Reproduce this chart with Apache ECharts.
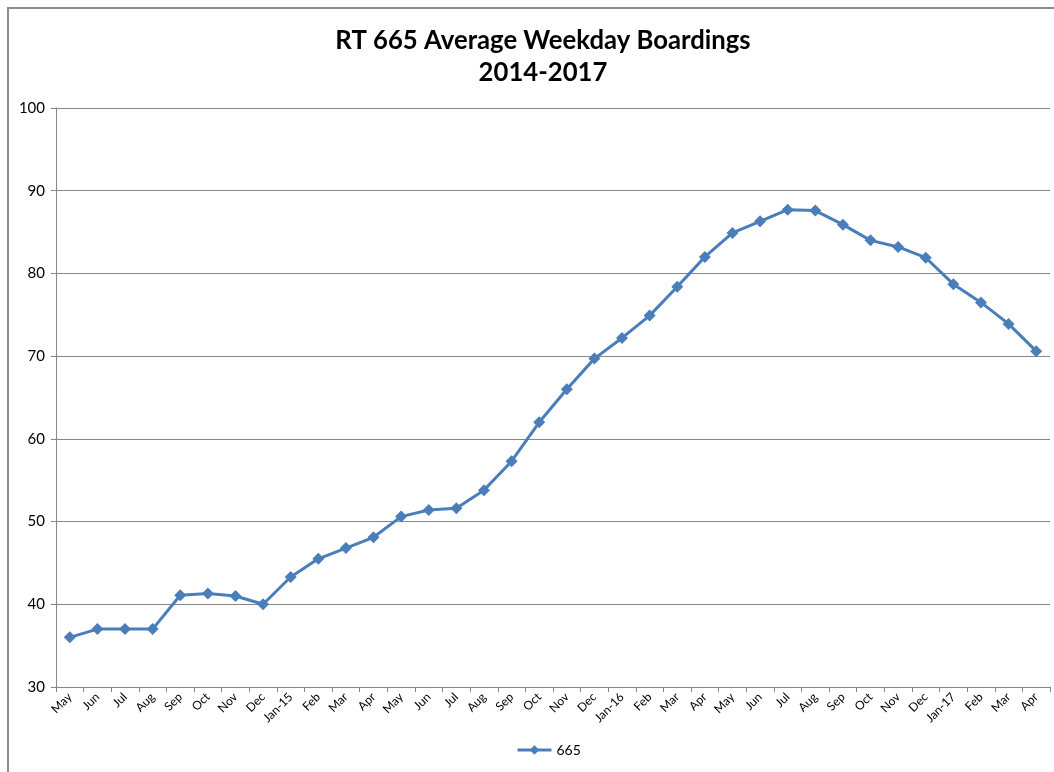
<!DOCTYPE html>
<html>
<head>
<meta charset="utf-8">
<title>RT 665 Average Weekday Boardings</title>
<script src="https://cdn.jsdelivr.net/npm/echarts@6/dist/echarts.min.js"></script>
<style>
  html, body { margin: 0; padding: 0; background: #ffffff; }
  #chart { width: 1054px; height: 772px; }
</style>
</head>
<body>
<div id="chart"></div>
<script>
// Months, May 2014 through Apr 2017
const months = [
  'May', 'Jun', 'Jul', 'Aug', 'Sep', 'Oct', 'Nov', 'Dec',
  'Jan-15', 'Feb', 'Mar', 'Apr', 'May', 'Jun', 'Jul', 'Aug', 'Sep', 'Oct', 'Nov', 'Dec',
  'Jan-16', 'Feb', 'Mar', 'Apr', 'May', 'Jun', 'Jul', 'Aug', 'Sep', 'Oct', 'Nov', 'Dec',
  'Jan-17', 'Feb', 'Mar', 'Apr'
];

// Route 665 average weekday boardings per month
const boardings665 = [
  36.0, 37.0, 37.0, 37.0, 41.1, 41.3, 41.0, 40.0,
  43.3, 45.5, 46.8, 48.1, 50.6, 51.4, 51.6, 53.8, 57.3, 62.0, 66.0, 69.7,
  72.2, 74.9, 78.4, 82.0, 84.9, 86.3, 87.7, 87.6, 85.9, 84.0, 83.2, 81.9,
  78.7, 76.5, 73.9, 70.6
];

const yTicks = { min: 30, max: 100, step: 10 };

const font = 'Lato, "Liberation Sans", sans-serif';
const chart = echarts.init(document.getElementById('chart'), null, { renderer: 'canvas' });

chart.setOption({
  backgroundColor: '#ffffff',
  animation: false,
  graphic: [{
    type: 'rect',
    shape: { x: 8, y: 8, width: 1100, height: 820 },
    style: { fill: 'none', stroke: '#8c8c8c', lineWidth: 2 },
    silent: true
  }],
  title: {
    text: 'RT 665 Average Weekday Boardings\n2014-2017',
    left: 538,
    top: 20,
    textAlign: 'center',
    textStyle: {
      fontFamily: font,
      fontWeight: 'bold',
      fontSize: 25.7,
      lineHeight: 32,
      color: '#000000'
    }
  },
  legend: {
    bottom: 10,
    left: 511,
    itemWidth: 34,
    itemHeight: 12,
    itemGap: 6,
    lineStyle: { width: 3 },
    textStyle: { fontFamily: font, fontSize: 14, color: '#000000' },
    data: ['665']
  },
  grid: { left: 56, right: 4, top: 108, bottom: 85, containLabel: false },
  xAxis: {
    type: 'category',
    data: months,
    boundaryGap: true,
    axisLine: { show: true, lineStyle: { color: '#868686', width: 1 } },
    axisTick: { show: true, length: 5, lineStyle: { color: '#868686' } },
    axisLabel: {
      interval: 0,
      rotate: 45,
      fontFamily: font,
      fontSize: 12,
      color: '#000000',
      margin: 8
    }
  },
  yAxis: {
    type: 'value',
    min: yTicks.min,
    max: yTicks.max,
    interval: yTicks.step,
    axisLine: { show: true, lineStyle: { color: '#868686', width: 1 } },
    axisTick: { show: true, length: 5, lineStyle: { color: '#868686' } },
    axisLabel: { fontFamily: font, fontSize: 15, color: '#000000', margin: 11 },
    splitLine: { show: true, lineStyle: { color: '#868686', width: 1 } }
  },
  series: [{
    name: '665',
    type: 'line',
    data: boardings665,
    symbol: 'diamond',
    symbolSize: 12,
    lineStyle: { color: '#4a7ebb', width: 3 },
    itemStyle: { color: '#4a7ebb' }
  }]
});
</script>
</body>
</html>
